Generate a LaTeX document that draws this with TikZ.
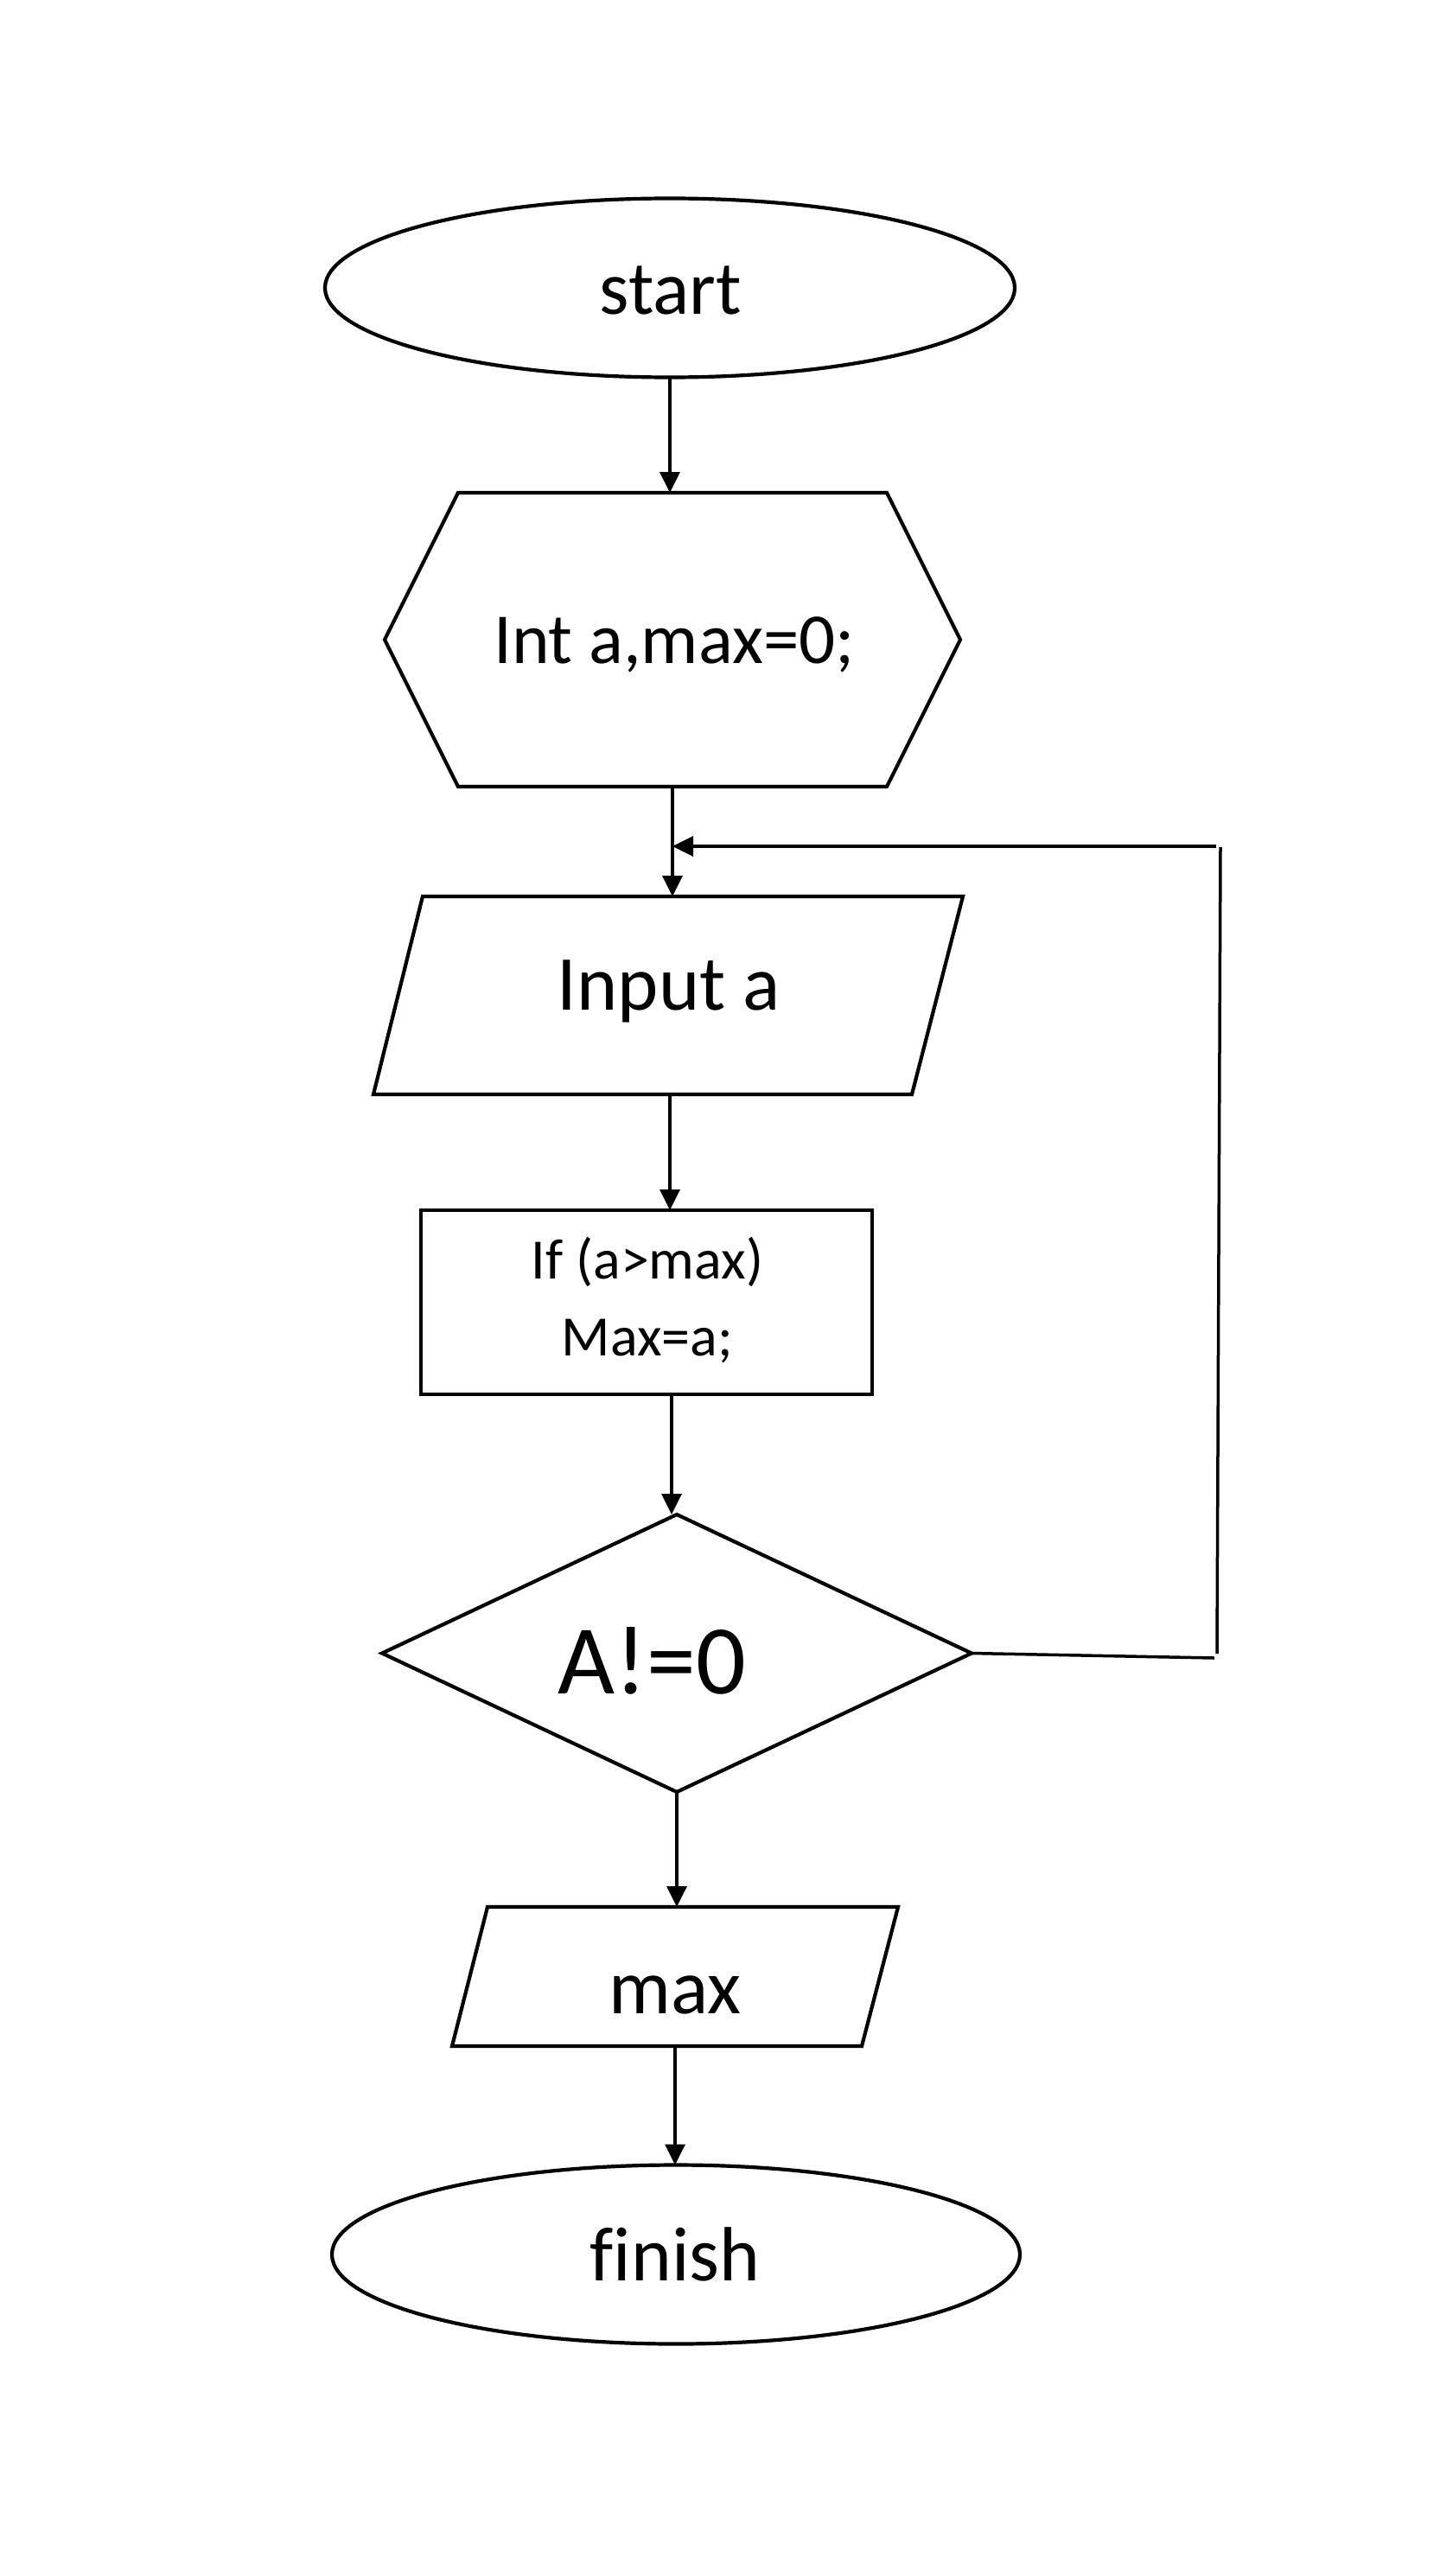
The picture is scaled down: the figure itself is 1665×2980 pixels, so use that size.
\documentclass[tikz,border=0pt]{standalone}
\usepackage{fontspec}
\setmainfont{Carlito}[Ligatures=CommonOff]
\usetikzlibrary{arrows.meta,shapes.geometric,calc}
\begin{document}
\begin{tikzpicture}[x=0.5pt,y=-0.5pt,
  outline/.style={draw=black,line width=2.1pt,line join=miter},
  boxnode/.style={draw=none,inner sep=0pt,outer sep=0pt},
  ovalnode/.style={ellipse,outline,inner sep=0pt,outer sep=0pt},
  link/.style={draw=black,line width=1.75pt,-{Triangle[length=12pt,width=11.5pt]}},
  plainlink/.style={draw=black,line width=1.75pt},
  txt/.style={anchor=base,inner sep=0pt,outer sep=0pt}]
\useasboundingbox (0,0) rectangle (1665,2980);

% shapes
\node[ovalnode,minimum width=399pt,minimum height=103.5pt] (start) at (775,333) {};
\node[boxnode,minimum width=333pt,minimum height=170pt] (hex) at (778,740) {};
\node[boxnode,minimum width=341pt,minimum height=114.5pt] (inp) at (773,1151.5) {};
\node[rectangle,outline,inner sep=0pt,outer sep=0pt,minimum width=261pt,minimum height=106.5pt] (cond) at (748,1506.5) {};
\node[boxnode,minimum width=341pt,minimum height=160.5pt] (dia) at (783,1912.5) {};
\node[boxnode,minimum width=258pt,minimum height=80.5pt] (outp) at (781,2286.5) {};
\node[ovalnode,minimum width=398pt,minimum height=103.5pt] (fin) at (782,2608) {};

\draw[outline] (hex.west) -- ($(hex.north west)+(85,0)$) -- ($(hex.north east)-(85,0)$)
  -- (hex.east) -- ($(hex.south east)-(85,0)$) -- ($(hex.south west)+(85,0)$) -- cycle;
\draw[outline] ($(inp.north west)+(57,0)$) -- (inp.north east) -- ($(inp.south east)-(59,0)$)
  -- (inp.south west) -- cycle;
\draw[outline] (dia.north) -- (dia.east) -- (dia.south) -- (dia.west) -- cycle;
\draw[outline] ($(outp.north west)+(41,0)$) -- (outp.north east) -- ($(outp.south east)-(42,0)$)
  -- (outp.south west) -- cycle;

% texts
\node[txt] (startT) at (776,364) {\fontsize{44pt}{53pt}\selectfont start};
\node[txt] (hexT) at (780,767) {\fontsize{41.5pt}{50pt}\selectfont Int a,max=0;};
\node[txt] (inpT) at (774,1168) {\fontsize{45pt}{54pt}\selectfont Input a};
\node[txt] (condT1) at (749,1479) {\fontsize{33pt}{40pt}\selectfont If (a>max)};
\node[txt] (condT2) at (749,1568) {\fontsize{33pt}{40pt}\selectfont Max=a;};
\node[txt] (diaT) at (754,1959) {\fontsize{57pt}{68pt}\selectfont A!=0};
\node[txt] (outT) at (781,2329) {\fontsize{45pt}{54pt}\selectfont max};
\node[txt] (finT) at (781,2638) {\fontsize{44.5pt}{53pt}\selectfont finish};

% connectors
\draw[link] (start.south) -- (start.south |- hex.north);
\draw[link] (hex.south) -- (hex.south |- inp.north);
\draw[link] ([xshift=1pt]inp.south) -- ([xshift=1pt]inp.south |- cond.north);
\draw[link] ([xshift=14.5pt]cond.south) -- ([xshift=14.5pt]cond.south |- dia.north);
\draw[link] (dia.south) -- (dia.south |- outp.north);
\draw[link] (outp.south) -- (outp.south |- fin.north);

% feedback loop
\coordinate (d1) at (1405,1918);
\coordinate (v1) at (1408,1913);
\coordinate (v2) at (1412,980);
\coordinate (h1) at (1407,979);
\draw[plainlink] (dia.east) -- (d1);
\draw[plainlink] (v1) -- (v2);
\draw[link] (h1) -- (h1 -| hex.south);
\end{tikzpicture}
\end{document}
